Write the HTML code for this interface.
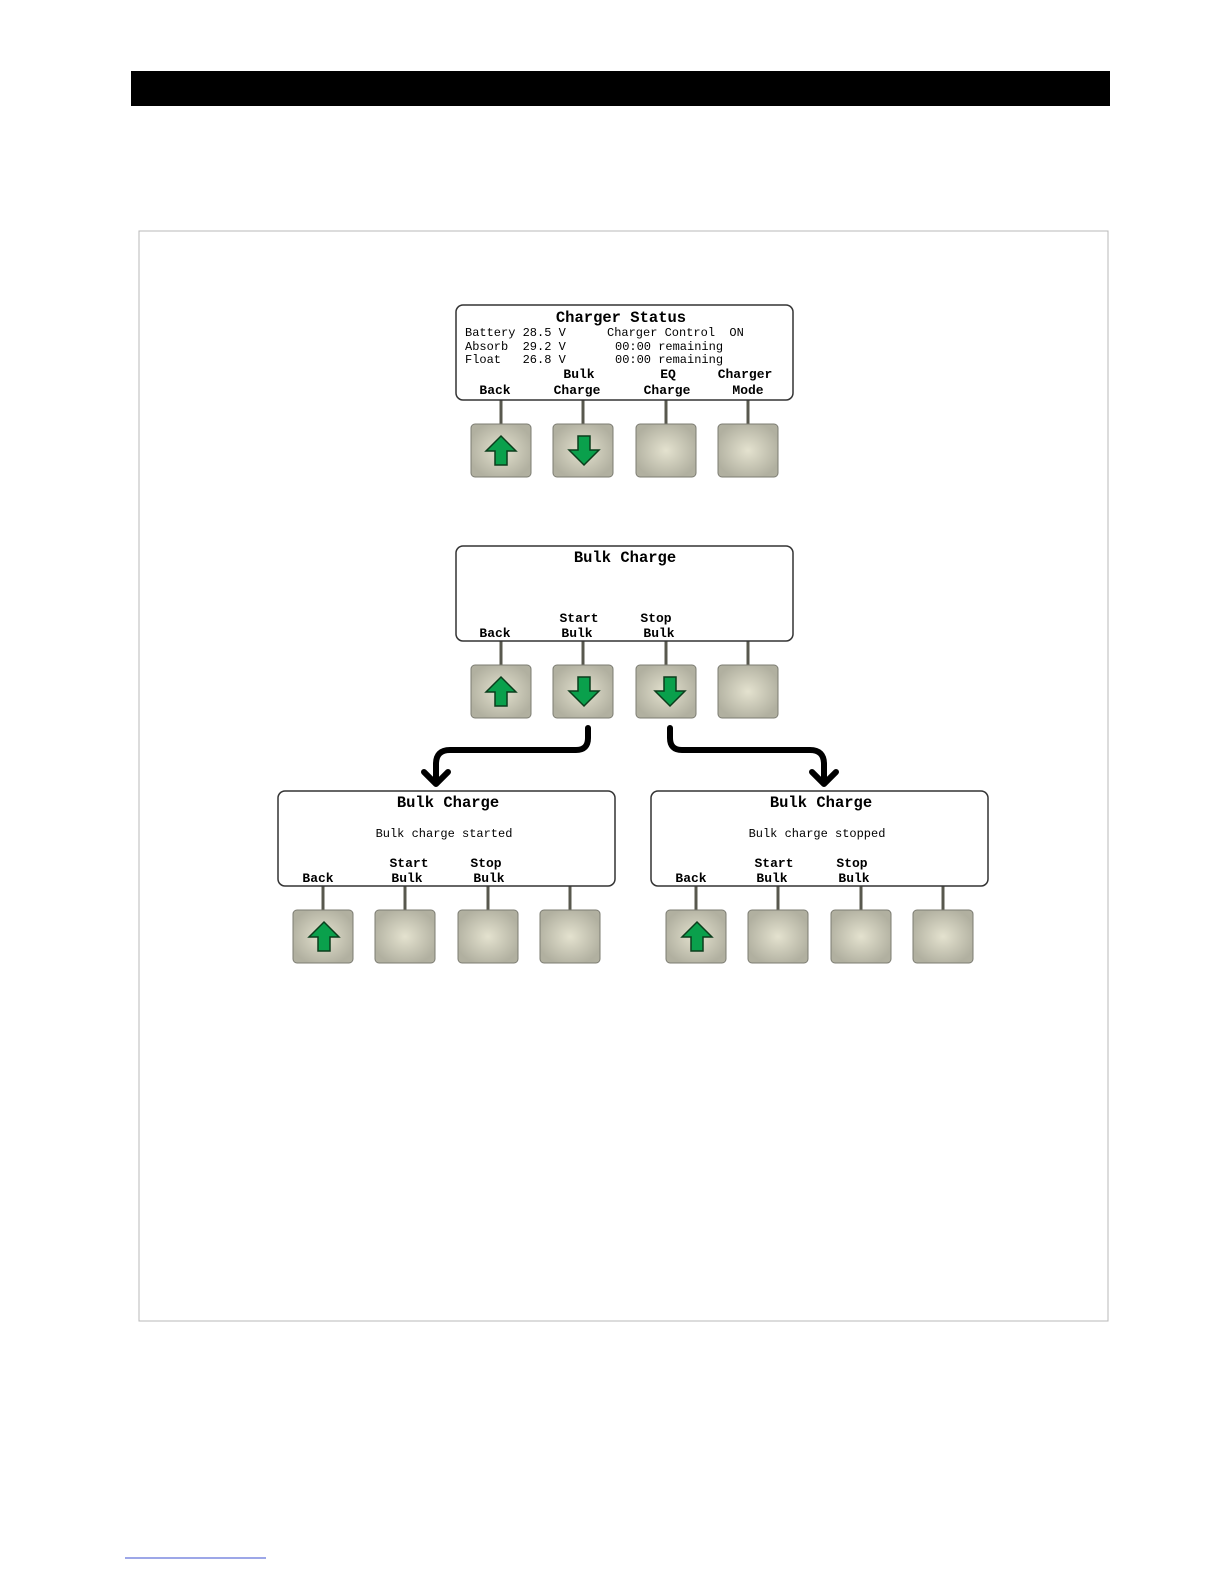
<!DOCTYPE html>
<html><head><meta charset="utf-8"><style>
html,body{margin:0;padding:0;background:#fff;width:1224px;height:1584px;overflow:hidden}
svg{display:block;position:absolute;left:0;top:0}
text{font-family:"Liberation Mono","DejaVu Sans Mono",monospace;fill:#000}
.t{font-size:15.5px;font-weight:bold}
.s{font-size:12px}
.l{font-size:13px;font-weight:bold}
</style></head><body>
<svg width="1224" height="1584" viewBox="0 0 1224 1584" xmlns="http://www.w3.org/2000/svg">
<defs>
<radialGradient id="g" cx="50%" cy="50%" r="55%">
<stop offset="0" stop-color="#e4e2cf"/><stop offset="1" stop-color="#b1b0a0"/>
</radialGradient>
<g id="btn"><rect x="0" y="0" width="60" height="53" rx="4" fill="url(#g)" stroke="#7c7c72" stroke-width="1"/></g>
<polygon id="up" points="0,-15 15,0 6,0 6,14 -6,14 -6,0 -15,0" fill="#0aa04c" stroke="#0b3d1c" stroke-width="1.5"/>
<polygon id="dn" points="0,15 15,0 6,0 6,-14 -6,-14 -6,0 -15,0" fill="#0aa04c" stroke="#0b3d1c" stroke-width="1.5"/>
</defs>
<rect x="131" y="71" width="979" height="35" fill="#000"/>
<rect x="139" y="231" width="969" height="1090" fill="none" stroke="#b8b8b8" stroke-width="1"/>
<line x1="125" y1="1558" x2="266" y2="1558" stroke="#3b4fd0" stroke-width="1"/>

<g stroke="#58584e" stroke-width="3"><line x1="501" y1="400" x2="501" y2="424"/><line x1="583" y1="400" x2="583" y2="424"/><line x1="666" y1="400" x2="666" y2="424"/><line x1="748" y1="400" x2="748" y2="424"/></g>
<rect x="456" y="305" width="337" height="95" rx="7" fill="#fff" stroke="#333" stroke-width="1.5"/>
<text class="t" x="621" y="322" text-anchor="middle">Charger Status</text>
<text class="s" x="465" y="336" xml:space="preserve">Battery 28.5 V</text>
<text class="s" x="465" y="350" xml:space="preserve">Absorb  29.2 V</text>
<text class="s" x="465" y="363" xml:space="preserve">Float   26.8 V</text>
<text class="s" x="607" y="336" xml:space="preserve">Charger Control  ON</text>
<text class="s" x="615" y="350">00:00 remaining</text>
<text class="s" x="615" y="363">00:00 remaining</text>
<text class="l" x="579" y="378" text-anchor="middle">Bulk</text>
<text class="l" x="668" y="378" text-anchor="middle">EQ</text>
<text class="l" x="745" y="378" text-anchor="middle">Charger</text>
<text class="l" x="495" y="394" text-anchor="middle">Back</text>
<text class="l" x="577" y="394" text-anchor="middle">Charge</text>
<text class="l" x="667" y="394" text-anchor="middle">Charge</text>
<text class="l" x="748" y="394" text-anchor="middle">Mode</text>
<use href="#btn" x="471" y="424"/><use href="#btn" x="553" y="424"/><use href="#btn" x="636" y="424"/><use href="#btn" x="718" y="424"/>
<use href="#up" x="501" y="451"/><use href="#dn" x="584" y="450"/>

<g stroke="#58584e" stroke-width="3"><line x1="501" y1="641" x2="501" y2="665"/><line x1="583" y1="641" x2="583" y2="665"/><line x1="666" y1="641" x2="666" y2="665"/><line x1="748" y1="641" x2="748" y2="665"/></g>
<rect x="456" y="546" width="337" height="95" rx="7" fill="#fff" stroke="#333" stroke-width="1.5"/>
<text class="t" x="625" y="562" text-anchor="middle">Bulk Charge</text>
<text class="l" x="579" y="622" text-anchor="middle">Start</text>
<text class="l" x="656" y="622" text-anchor="middle">Stop</text>
<text class="l" x="495" y="637" text-anchor="middle">Back</text>
<text class="l" x="577" y="637" text-anchor="middle">Bulk</text>
<text class="l" x="659" y="637" text-anchor="middle">Bulk</text>
<use href="#btn" x="471" y="665"/><use href="#btn" x="553" y="665"/><use href="#btn" x="636" y="665"/><use href="#btn" x="718" y="665"/>
<use href="#up" x="501" y="692"/><use href="#dn" x="584" y="691"/><use href="#dn" x="670" y="691"/>

<g fill="none" stroke="#000" stroke-width="6" stroke-linecap="round" stroke-linejoin="round">
<path d="M588,728 L588,738 Q588,750 576,750 L450,750 Q436,750 436,764 L436,783"/>
<path d="M424,772 L436,784 L448,772"/>
<path d="M670,728 L670,738 Q670,750 682,750 L810,750 Q824,750 824,764 L824,783"/>
<path d="M812,772 L824,784 L836,772"/>
</g>

<g stroke="#58584e" stroke-width="3"><line x1="323" y1="886" x2="323" y2="911"/><line x1="405" y1="886" x2="405" y2="911"/><line x1="488" y1="886" x2="488" y2="911"/><line x1="570" y1="886" x2="570" y2="911"/></g>
<rect x="278" y="791" width="337" height="95" rx="7" fill="#fff" stroke="#333" stroke-width="1.5"/>
<text class="t" x="448" y="807" text-anchor="middle">Bulk Charge</text>
<text class="s" x="444" y="837" text-anchor="middle">Bulk charge started</text>
<text class="l" x="409" y="867" text-anchor="middle">Start</text>
<text class="l" x="486" y="867" text-anchor="middle">Stop</text>
<text class="l" x="318" y="882" text-anchor="middle">Back</text>
<text class="l" x="407" y="882" text-anchor="middle">Bulk</text>
<text class="l" x="489" y="882" text-anchor="middle">Bulk</text>
<use href="#btn" x="293" y="910"/><use href="#btn" x="375" y="910"/><use href="#btn" x="458" y="910"/><use href="#btn" x="540" y="910"/>
<use href="#up" x="324" y="937"/>

<g stroke="#58584e" stroke-width="3"><line x1="696" y1="886" x2="696" y2="911"/><line x1="778" y1="886" x2="778" y2="911"/><line x1="861" y1="886" x2="861" y2="911"/><line x1="943" y1="886" x2="943" y2="911"/></g>
<rect x="651" y="791" width="337" height="95" rx="7" fill="#fff" stroke="#333" stroke-width="1.5"/>
<text class="t" x="821" y="807" text-anchor="middle">Bulk Charge</text>
<text class="s" x="817" y="837" text-anchor="middle">Bulk charge stopped</text>
<text class="l" x="774" y="867" text-anchor="middle">Start</text>
<text class="l" x="852" y="867" text-anchor="middle">Stop</text>
<text class="l" x="691" y="882" text-anchor="middle">Back</text>
<text class="l" x="772" y="882" text-anchor="middle">Bulk</text>
<text class="l" x="854" y="882" text-anchor="middle">Bulk</text>
<use href="#btn" x="666" y="910"/><use href="#btn" x="748" y="910"/><use href="#btn" x="831" y="910"/><use href="#btn" x="913" y="910"/>
<use href="#up" x="697" y="937"/>
</svg>
</body></html>
